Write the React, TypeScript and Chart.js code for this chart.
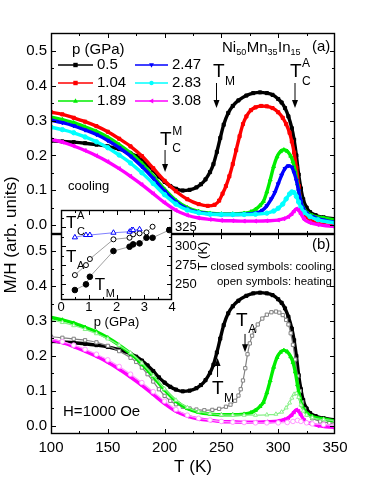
import React, { useEffect, useRef } from 'react';
import { Chart, registerables } from 'chart.js';
Chart.register(...registerables);

const FONT = "'Liberation Sans', Arial, Helvetica, sans-serif";

// ---------- panel (a) / (b) : cooling curves, T (K) vs M/H ----------
const T_P050_COOL = [100,110,120,130,140,150,160,165,170,175,180,185,190,195,200,205,210,216,222,228,232,236,240,243,246,249,252,256,260,265,272,278,284,290,295,300,303,306,309,312,314,316,318,320,322,325,328,333,340,350];
const M_P050_COOL = [0.242,0.240,0.238,0.235,0.231,0.226,0.218,0.213,0.206,0.198,0.187,0.173,0.157,0.139,0.124,0.112,0.104,0.099,0.101,0.108,0.117,0.131,0.152,0.175,0.210,0.250,0.288,0.322,0.342,0.358,0.372,0.379,0.381,0.379,0.374,0.362,0.352,0.336,0.312,0.278,0.245,0.200,0.145,0.105,0.074,0.050,0.037,0.028,0.022,0.017];

const T_P104_COOL = [100,110,120,130,140,150,160,170,180,190,200,210,220,230,238,244,248,251,254,257,260,263,266,269,272,276,280,285,290,295,300,304,307,310,312,314,316,318,320,322,325,330,340,350];
const M_P104_COOL = [0.324,0.318,0.308,0.297,0.284,0.268,0.248,0.226,0.198,0.163,0.127,0.097,0.074,0.060,0.055,0.058,0.070,0.090,0.112,0.140,0.175,0.215,0.255,0.290,0.312,0.330,0.338,0.342,0.341,0.336,0.324,0.308,0.290,0.265,0.240,0.208,0.165,0.112,0.066,0.040,0.024,0.010,0.001,-0.003];

const T_P189_COOL = [100,110,120,130,140,150,160,170,180,190,200,210,220,230,240,250,260,270,276,280,284,287,290,293,296,299,302,305,308,311,313,315,317,319,321,323,326,330,340,350];
const M_P189_COOL = [0.310,0.303,0.294,0.282,0.269,0.252,0.231,0.207,0.177,0.141,0.103,0.071,0.050,0.039,0.034,0.032,0.032,0.034,0.038,0.045,0.056,0.068,0.095,0.130,0.168,0.196,0.211,0.216,0.212,0.198,0.182,0.155,0.118,0.082,0.058,0.045,0.034,0.027,0.020,0.014];

const T_P247_COOL = [100,110,120,130,140,150,160,170,180,190,200,210,220,230,240,250,260,270,280,286,290,294,297,300,303,306,309,312,314,316,318,320,322,325,330,340,350];
const M_P247_COOL = [0.301,0.294,0.285,0.273,0.260,0.243,0.222,0.198,0.168,0.134,0.097,0.066,0.046,0.036,0.032,0.030,0.030,0.031,0.034,0.042,0.055,0.075,0.093,0.118,0.143,0.162,0.170,0.166,0.150,0.128,0.098,0.068,0.048,0.034,0.024,0.014,0.008];

const T_P283_COOL = [100,110,120,130,140,150,160,170,180,190,200,210,220,230,240,250,260,270,280,290,296,300,304,307,310,312,314,316,318,320,323,328,335,350];
const M_P283_COOL = [0.281,0.274,0.265,0.253,0.239,0.222,0.201,0.178,0.150,0.119,0.087,0.060,0.043,0.035,0.031,0.030,0.030,0.030,0.031,0.034,0.040,0.048,0.060,0.075,0.089,0.095,0.093,0.082,0.066,0.050,0.036,0.024,0.015,0.006];

const T_P308_COOL = [100,110,120,130,140,150,160,170,180,190,200,210,220,230,240,250,260,270,280,290,300,305,309,312,314,316,318,320,323,328,335,350];
const M_P308_COOL = [0.246,0.238,0.227,0.214,0.199,0.182,0.162,0.140,0.116,0.090,0.064,0.042,0.028,0.020,0.016,0.013,0.012,0.011,0.011,0.012,0.014,0.018,0.024,0.032,0.040,0.046,0.042,0.032,0.016,0.007,0.001,-0.005];

// ---------- panel (b) : heating curves ----------
const T_P050_HEAT = [100,110,120,130,140,150,160,170,175,180,185,190,195,200,205,210,216,222,228,235,242,248,254,258,262,265,267,269,271,273,275,277,279,282,286,290,294,298,301,304,307,309,311,313,315,317,319,321,323,326,330,337,345,350];
const M_P050_HEAT = [0.255,0.252,0.249,0.245,0.239,0.229,0.214,0.195,0.183,0.167,0.148,0.127,0.105,0.086,0.072,0.062,0.055,0.050,0.047,0.045,0.046,0.049,0.055,0.061,0.072,0.087,0.105,0.130,0.165,0.205,0.236,0.258,0.273,0.290,0.307,0.318,0.325,0.327,0.324,0.317,0.303,0.290,0.265,0.232,0.190,0.143,0.100,0.068,0.048,0.032,0.022,0.013,0.009,0.008];

const T_P189_HEAT = [100,110,120,130,140,150,160,170,180,190,200,210,220,230,240,250,260,270,280,290,298,303,307,310,312,314,316,318,320,322,325,330,340,350];
const M_P189_HEAT = [0.303,0.296,0.287,0.276,0.264,0.249,0.231,0.209,0.180,0.144,0.106,0.074,0.053,0.041,0.035,0.032,0.031,0.031,0.031,0.032,0.034,0.040,0.052,0.066,0.080,0.091,0.093,0.082,0.060,0.043,0.031,0.024,0.018,0.015];

const T_P308_HEAT = [100,110,120,130,140,150,160,170,180,190,200,210,220,230,240,250,260,270,280,290,300,308,313,317,320,325,330,340,350];
const M_P308_HEAT = [0.249,0.241,0.231,0.219,0.205,0.189,0.170,0.148,0.124,0.098,0.071,0.047,0.031,0.022,0.017,0.013,0.011,0.010,0.009,0.009,0.009,0.010,0.013,0.016,0.013,0.009,0.006,0.004,0.003];

// ---------- inset : transition temperatures vs pressure ----------
const P_TCA = [0.5,0.9,1.04,1.89,2.47,2.55,2.6,2.83];
const T_TCA = [311.8,314.9,314.9,317.9,319.2,321.4,321.4,322.4];
const P_TA = [0.5,0.9,1.04,1.89,2.47,2.6,2.83,3.08,3.3];
const T_TA = [262.2,275.3,283.3,309.2,311.3,315.8,317.1,318.4,325.8];
const P_TM = [0.5,0.9,1.04,1.89,2.47,2.6,2.83,3.08,3.3,3.9];
const T_TM = [242.5,250.0,260.0,293.8,299.5,302.6,303.9,311.3,311.3,321.4];

// ---------- ticks / labels ----------
const X_TICKS = [100,150,200,250,300,350];
const X_MINOR = [125,175,225,275,325];
const Y_TICKS = [0,0.1,0.2,0.3,0.4,0.5];
const Y_MINOR = [0.05,0.15,0.25,0.35,0.45];
const INSET_X_TICKS = [0,1,2,3,4];
const INSET_X_MINOR = [0.5,1.5,2.5,3.5];
const INSET_Y_TICKS = [250,275,300,325];
const INSET_Y_MINOR = [237.5,262.5,287.5,312.5,337.5];
const LEGEND_LABELS = ['0.5','1.04','1.89','2.47','2.83','3.08'];

const C_BLACK = '#000000', C_RED = '#ff0000', C_GREEN = '#00ee00', C_BLUE = '#0000ff', C_CYAN = '#00ffff', C_MAG = '#ff00ff';
const C_GRAY = '#808080', C_LGREEN = '#88f088', C_LMAG = '#ff99ff';

const pts = (T: number[], M: number[]) => T.map((t, i) => ({ x: t, y: M[i] }));

function markerPath(ctx: any, shape: string, x: number, y: number, r: number) {
  ctx.beginPath();
  if (shape === 'rect') ctx.rect(x - r, y - r, 2 * r, 2 * r);
  else if (shape === 'up') { ctx.moveTo(x, y - r * 1.2); ctx.lineTo(x + r * 1.1, y + r * 0.8); ctx.lineTo(x - r * 1.1, y + r * 0.8); ctx.closePath(); }
  else if (shape === 'down') { ctx.moveTo(x, y + r * 1.2); ctx.lineTo(x + r * 1.1, y - r * 0.8); ctx.lineTo(x - r * 1.1, y - r * 0.8); ctx.closePath(); }
  else if (shape === 'left') { ctx.moveTo(x - r * 1.2, y); ctx.lineTo(x + r * 0.8, y - r * 1.1); ctx.lineTo(x + r * 0.8, y + r * 1.1); ctx.closePath(); }
  else ctx.arc(x, y, r, 0, Math.PI * 2);
}

function txt(ctx: any, s: string, x: number, y: number, size: number, align: any = 'left') {
  ctx.font = `${size}px ${FONT}`;
  ctx.fillStyle = '#000';
  ctx.textAlign = align;
  ctx.textBaseline = 'middle';
  ctx.fillText(s, x, y);
}

// "T" with optional sub/superscript; x = left edge, y = vertical centre of T
function drawT(ctx: any, x: number, y: number, size: number, sub: string, sup: string) {
  const small = Math.round(size * 0.63);
  ctx.fillStyle = '#000';
  ctx.textAlign = 'left';
  ctx.textBaseline = 'alphabetic';
  ctx.font = `${size}px ${FONT}`;
  const base = y + 0.36 * size;
  ctx.fillText('T', x, base);
  const w = ctx.measureText('T').width;
  ctx.font = `${small}px ${FONT}`;
  if (sup) ctx.fillText(sup, x + w + 0.5, base - 0.52 * size);
  if (sub) ctx.fillText(sub, x + w + 0.5, base + 0.4 * size);
}

function arrow(ctx: any, x1: number, y1: number, x2: number, y2: number) {
  ctx.save();
  ctx.strokeStyle = '#000'; ctx.fillStyle = '#000'; ctx.lineWidth = 1;
  const dir = Math.sign(y2 - y1);
  ctx.beginPath(); ctx.moveTo(x1, y1); ctx.lineTo(x2, y2 - dir * 5); ctx.stroke();
  ctx.beginPath(); ctx.moveTo(x2, y2); ctx.lineTo(x2 - 3, y2 - dir * 8); ctx.lineTo(x2 + 3, y2 - dir * 8); ctx.closePath(); ctx.fill();
  ctx.restore();
}

function drawFrame(chart: any, xMaj: number[], xMin: number[], yMaj: number[], yMin: number[]) {
  const { ctx, chartArea: a, scales } = chart;
  const xs = scales.x, ys = scales.y;
  ctx.save();
  ctx.strokeStyle = '#000'; ctx.lineWidth = 1.4;
  ctx.strokeRect(a.left + 0.5, a.top + 0.5, a.right - a.left - 1, a.bottom - a.top - 1);
  ctx.lineWidth = 1;
  const line = (x1: number, y1: number, x2: number, y2: number) => { ctx.beginPath(); ctx.moveTo(x1, y1); ctx.lineTo(x2, y2); ctx.stroke(); };
  ([[xMaj, 5], [xMin, 3]] as any).forEach(([list, len]: any) => {
    list.forEach((v: number) => {
      const p = Math.round(xs.getPixelForValue(v)) + 0.5;
      if (p < a.left + 2 || p > a.right - 2) return;
      line(p, a.bottom, p, a.bottom - len);
      line(p, a.top, p, a.top + len);
    });
  });
  ([[yMaj, 5], [yMin, 3]] as any).forEach(([list, len]: any) => {
    list.forEach((v: number) => {
      const p = Math.round(ys.getPixelForValue(v)) + 0.5;
      if (p < a.top + 2 || p > a.bottom - 2) return;
      line(a.left, p, a.left + len, p);
      line(a.right, p, a.right - len, p);
    });
  });
  ctx.restore();
}

function coolSet(T: number[], M: number[], color: string, style: string, rot: number, order: number) {
  return {
    data: pts(T, M), borderColor: color, backgroundColor: color, borderWidth: 3.4,
    pointRadius: 2.2, pointStyle: style, pointRotation: rot, pointBackgroundColor: color,
    pointBorderColor: color, pointBorderWidth: 1, cubicInterpolationMode: 'monotone', fill: false, order,
  };
}
function heatSet(T: number[], M: number[], color: string, style: string, order: number) {
  return {
    data: pts(T, M), borderColor: color, backgroundColor: '#fff', borderWidth: 1.2,
    pointRadius: 2.3, pointStyle: style, pointBackgroundColor: '#fff',
    pointBorderColor: color, pointBorderWidth: 1, cubicInterpolationMode: 'monotone', fill: false, order,
  };
}

function yAxis(min: number, max: number) {
  return {
    type: 'linear', min, max, position: 'left',
    grid: { display: false, drawTicks: false }, border: { display: false },
    ticks: { font: { size: 15, family: FONT }, color: '#000', padding: 4, callback: (v: any) => Number(v).toFixed(1) },
    afterBuildTicks: (s: any) => { s.ticks = Y_TICKS.map(v => ({ value: v })); },
    afterFit: (s: any) => { s.width = 51; },
  };
}

const LEGEND_STYLE = [
  { color: C_BLACK, shape: 'rect' }, { color: C_RED, shape: 'rect' }, { color: C_GREEN, shape: 'up' },
  { color: C_BLUE, shape: 'down' }, { color: C_CYAN, shape: 'circle' }, { color: C_MAG, shape: 'left' },
];

const pluginA = {
  id: 'annotA',
  afterDatasetsDraw(chart: any) {
    drawFrame(chart, X_TICKS, X_MINOR, Y_TICKS, Y_MINOR);
  },
  afterDraw(chart: any) {
    const { ctx, chartArea: a, scales: { x, y } } = chart;
    ctx.save();
    // legend
    txt(ctx, 'p (GPa)', a.left + 21, a.top + 17, 15);
    LEGEND_LABELS.forEach((lab, i) => {
      const col = Math.floor(i / 3), row = i % 3;
      const x0 = col === 0 ? a.left + 7 : a.left + 84;
      const x1 = col === 0 ? a.left + 42 : a.left + 117;
      const yy = a.top + 32 + row * 18;
      const st = LEGEND_STYLE[i];
      ctx.strokeStyle = st.color; ctx.lineWidth = 1.5;
      ctx.beginPath(); ctx.moveTo(x0, yy); ctx.lineTo(x1, yy); ctx.stroke();
      ctx.fillStyle = st.color; markerPath(ctx, st.shape, (x0 + x1) / 2, yy, 2.2); ctx.fill();
      txt(ctx, lab, x1 + 4, yy, 15);
    });
    // compound name
    ctx.fillStyle = '#000'; ctx.textAlign = 'left'; ctx.textBaseline = 'alphabetic';
    let cx = a.left + 171; const base = a.top + 19;
    [['Ni', 0], ['50', 1], ['Mn', 0], ['35', 1], ['In', 0], ['15', 1]].forEach(([s, sub]: any) => {
      ctx.font = sub ? `9px ${FONT}` : `15px ${FONT}`;
      ctx.fillText(s, cx, sub ? base + 3 : base);
      cx += ctx.measureText(s).width + (sub ? 0.5 : 0);
    });
    txt(ctx, '(a)', a.right - 23, a.top + 14, 15);
    txt(ctx, 'cooling', x.getPixelForValue(115), y.getPixelForValue(0.112), 13);
    drawT(ctx, x.getPixelForValue(242.6), y.getPixelForValue(0.445), 19, 'M', '');
    arrow(ctx, x.getPixelForValue(245.7), y.getPixelForValue(0.408), x.getPixelForValue(245.7), y.getPixelForValue(0.336));
    drawT(ctx, x.getPixelForValue(310.4), y.getPixelForValue(0.445), 19, 'C', 'A');
    arrow(ctx, x.getPixelForValue(314.8), y.getPixelForValue(0.408), x.getPixelForValue(314.8), y.getPixelForValue(0.336));
    drawT(ctx, x.getPixelForValue(196), y.getPixelForValue(0.25), 19, 'C', 'M');
    arrow(ctx, x.getPixelForValue(200.4), y.getPixelForValue(0.2155), x.getPixelForValue(200.4), y.getPixelForValue(0.152));
    // shared y title
    ctx.translate(11, 235); ctx.rotate(-Math.PI / 2);
    txt(ctx, 'M/H (arb. units)', 0, 0, 17, 'center');
    ctx.restore();
  },
};

const pluginB = {
  id: 'annotB',
  afterDatasetsDraw(chart: any) {
    drawFrame(chart, X_TICKS, X_MINOR, Y_TICKS, Y_MINOR);
  },
  afterDraw(chart: any) {
    const { ctx, chartArea: a, scales: { x, y } } = chart;
    ctx.save();
    txt(ctx, '(b)', a.right - 23, a.top + 11, 15);
    txt(ctx, 'closed symbols: cooling', a.right - 3, a.top + 33, 11.5, 'right');
    txt(ctx, 'open symbols: heating', a.right - 3, a.top + 48, 11.5, 'right');
    txt(ctx, 'H=1000 Oe', x.getPixelForValue(110.6), y.getPixelForValue(0.04), 15);
    drawT(ctx, x.getPixelForValue(262.9), y.getPixelForValue(0.306), 19, 'A', '');
    arrow(ctx, x.getPixelForValue(270.8), y.getPixelForValue(0.263), x.getPixelForValue(270.8), y.getPixelForValue(0.211));
    drawT(ctx, x.getPixelForValue(241.7), y.getPixelForValue(0.111), 19, 'M', '');
    arrow(ctx, x.getPixelForValue(246.6), y.getPixelForValue(0.14), x.getPixelForValue(246.6), y.getPixelForValue(0.194));
    ctx.restore();
  },
};

const pluginInset = {
  id: 'annotInset',
  beforeDraw(chart: any) {
    const { ctx, chartArea: a } = chart;
    ctx.save(); ctx.fillStyle = '#fff'; ctx.fillRect(a.left, a.top, a.right - a.left, a.bottom - a.top); ctx.restore();
  },
  afterDatasetsDraw(chart: any) {
    drawFrame(chart, INSET_X_TICKS, INSET_X_MINOR, INSET_Y_TICKS, INSET_Y_MINOR);
  },
  afterDraw(chart: any) {
    const { ctx, chartArea: a, scales: { x, y } } = chart;
    ctx.save();
    drawT(ctx, x.getPixelForValue(0.18), y.getPixelForValue(332), 17, 'C', 'A');
    drawT(ctx, x.getPixelForValue(0.18), y.getPixelForValue(287.3), 17, 'A', '');
    drawT(ctx, x.getPixelForValue(1.22), y.getPixelForValue(250.4), 17, 'M', '');
    ctx.translate(a.right + 31, (a.top + a.bottom) / 2 + 1); ctx.rotate(-Math.PI / 2);
    txt(ctx, 'T (K)', 0, 0, 13, 'center');
    ctx.restore();
  },
};

export default function App() {
  const aRef = useRef<HTMLCanvasElement>(null);
  const bRef = useRef<HTMLCanvasElement>(null);
  const iRef = useRef<HTMLCanvasElement>(null);

  useEffect(() => {
    Chart.defaults.font.family = FONT;
    Chart.defaults.color = '#000';
    const common = { responsive: false, animation: false, devicePixelRatio: 1, events: [] as any[],
      plugins: { legend: { display: false }, tooltip: { enabled: false } } };

    const chartA = new Chart(aRef.current as any, {
      type: 'line',
      data: { datasets: [
        coolSet(T_P050_COOL, M_P050_COOL, C_BLACK, 'rect', 0, 6),
        coolSet(T_P104_COOL, M_P104_COOL, C_RED, 'rect', 0, 5),
        coolSet(T_P189_COOL, M_P189_COOL, C_GREEN, 'triangle', 0, 4),
        coolSet(T_P247_COOL, M_P247_COOL, C_BLUE, 'triangle', 180, 3),
        coolSet(T_P283_COOL, M_P283_COOL, C_CYAN, 'circle', 0, 2),
        coolSet(T_P308_COOL, M_P308_COOL, C_MAG, 'triangle', 270, 1),
      ] as any },
      options: {
        ...common,
        layout: { padding: { left: 0, top: 33, right: 39, bottom: 250 } },
        scales: {
          x: { type: 'linear', min: 100, max: 350, display: false },
          y: yAxis(-0.0259, 0.5517) as any,
        },
      } as any,
      plugins: [pluginA],
    });

    const chartB = new Chart(bRef.current as any, {
      type: 'line',
      data: { datasets: [
        coolSet(T_P050_COOL, M_P050_COOL, C_BLACK, 'rect', 0, 6),
        heatSet(T_P050_HEAT, M_P050_HEAT, C_GRAY, 'rect', 5),
        coolSet(T_P189_COOL, M_P189_COOL, C_GREEN, 'triangle', 0, 4),
        heatSet(T_P189_HEAT, M_P189_HEAT, C_LGREEN, 'triangle', 3),
        coolSet(T_P308_COOL, M_P308_COOL, C_MAG, 'triangle', 270, 2),
        heatSet(T_P308_HEAT, M_P308_HEAT, C_LMAG, 'circle', 1),
      ] as any },
      options: {
        ...common,
        layout: { padding: { left: 0, top: 234, right: 39, bottom: 0 } },
        scales: {
          x: {
            type: 'linear', min: 100, max: 350, position: 'bottom',
            grid: { display: false, drawTicks: false }, border: { display: false },
            ticks: { font: { size: 15, family: FONT }, color: '#000', padding: 5, autoSkip: false, maxRotation: 0 },
            afterBuildTicks: (s: any) => { s.ticks = X_TICKS.map(v => ({ value: v })); },
            title: { display: true, text: 'T (K)', font: { size: 17, family: FONT }, color: '#000', padding: { top: 0, bottom: 6 } },
            afterFit: (s: any) => { s.height = 50; },
          },
          y: yAxis(-0.0229, 0.5486) as any,
        },
      } as any,
      plugins: [pluginB],
    });

    const chartI = new Chart(iRef.current as any, {
      type: 'line',
      data: { datasets: [
        { data: pts(P_TCA, T_TCA), borderColor: '#8080ff', borderWidth: 1, pointStyle: 'triangle', pointRadius: 3,
          pointBackgroundColor: '#fff', pointBorderColor: C_BLUE, pointBorderWidth: 1, fill: false },
        { data: pts(P_TA, T_TA), borderColor: '#a0a0a0', borderWidth: 1, pointStyle: 'circle', pointRadius: 2.5,
          pointBackgroundColor: '#fff', pointBorderColor: '#000', pointBorderWidth: 1, fill: false },
        { data: pts(P_TM, T_TM), borderColor: '#a0a0a0', borderWidth: 1, pointStyle: 'circle', pointRadius: 2.8,
          pointBackgroundColor: '#000', pointBorderColor: '#000', pointBorderWidth: 1, fill: false },
      ] as any },
      options: {
        ...common,
        layout: { padding: { left: 61, top: 210, right: 162, bottom: 154 } },
        scales: {
          x: {
            type: 'linear', min: 0, max: 4, position: 'bottom',
            grid: { display: false, drawTicks: false }, border: { display: false },
            ticks: { font: { size: 13, family: FONT }, color: '#000', padding: 0, autoSkip: false, maxRotation: 0 },
            afterBuildTicks: (s: any) => { s.ticks = INSET_X_TICKS.map(v => ({ value: v })); },
            title: { display: true, text: 'p (GPa)', font: { size: 13, family: FONT }, color: '#000', padding: { top: 0, bottom: 0 } },
            afterFit: (s: any) => { s.height = 30; },
          },
          y: {
            type: 'linear', min: 229.4, max: 347.8, position: 'right',
            grid: { display: false, drawTicks: false }, border: { display: false },
            ticks: { font: { size: 13, family: FONT }, color: '#000', padding: 3 },
            afterBuildTicks: (s: any) => { s.ticks = INSET_Y_TICKS.map(v => ({ value: v })); },
            afterFit: (s: any) => { s.width = 40; },
          },
        },
      } as any,
      plugins: [pluginInset],
    });

    return () => { chartA.destroy(); chartB.destroy(); chartI.destroy(); };
  }, []);

  const cs: any = { position: 'absolute', left: 0, top: 0, width: '374px', height: '484px' };
  return (
    <div style={{ position: 'absolute', left: 0, top: 0, width: 374, height: 484, background: '#fff' }}>
      <canvas ref={aRef} width={374} height={484} style={cs} />
      <canvas ref={bRef} width={374} height={484} style={cs} />
      <canvas ref={iRef} width={374} height={484} style={cs} />
    </div>
  );
}
